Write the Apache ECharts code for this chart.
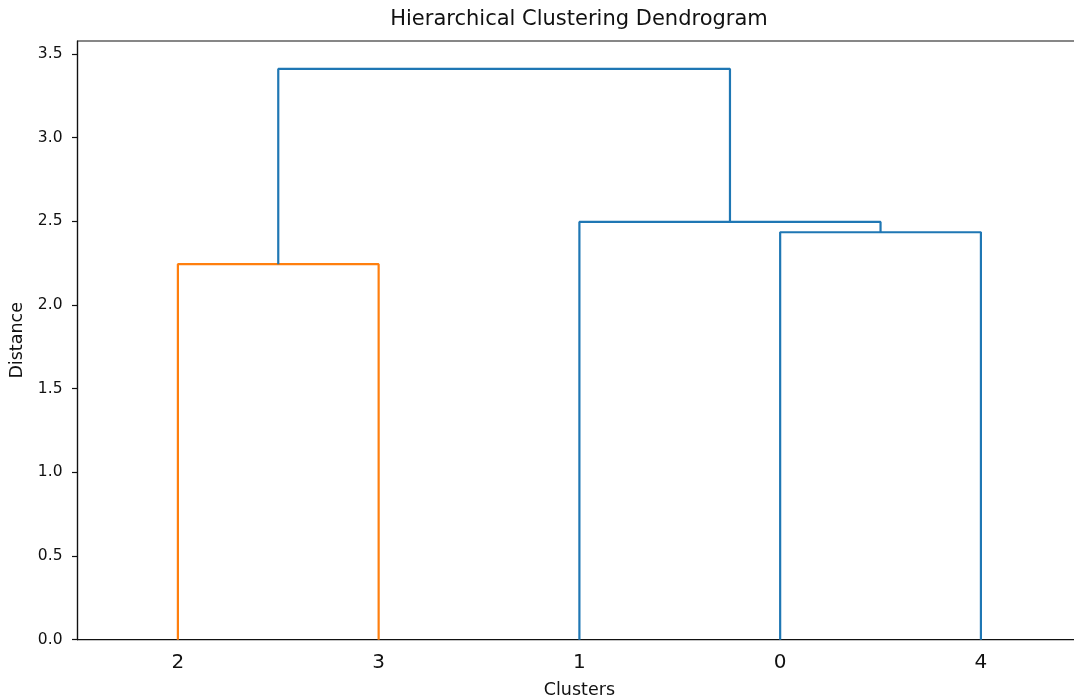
<!DOCTYPE html>
<html>
<head>
<meta charset="utf-8">
<title>Hierarchical Clustering Dendrogram</title>
<script src="https://cdn.jsdelivr.net/npm/echarts@6/dist/echarts.min.js"></script>
<style>
  html, body { margin: 0; padding: 0; background: #fff; }
  #chart { width: 1074px; height: 699px; }
</style>
</head>
<body>
<div id="chart"></div>
<script>
// Observation labels (by original index) and the linkage steps.
// Each merge joins two nodes; nodes 0..4 are leaves, 5.. are earlier merges.
const leafLabels = ['0', '1', '2', '3', '4'];
const mergeLeft = [2, 0, 1, 5];
const mergeRight = [3, 4, 6, 7];
const mergeHeight = [2.244, 2.435, 2.497, 3.411];
const yTicks = [0, 0.5, 1.0, 1.5, 2.0, 2.5, 3.0, 3.5];

const ABOVE_COLOR = '#1f77b4';
const CLUSTER_COLORS = ['#ff7f0e', '#2ca02c', '#d62728', '#9467bd'];
const FONT = 'DejaVu Sans';

const nLeaves = leafLabels.length;
const threshold = 0.7 * Math.max(...mergeHeight);
const rootId = nLeaves + mergeHeight.length - 1;

// Walk the tree left to right to get the leaf order and each node's position.
const leafOrder = [];
const nodeX = {};
const nodeH = {};
function place(id) {
  if (id < nLeaves) {
    nodeX[id] = 5 + 10 * leafOrder.length;
    nodeH[id] = 0;
    leafOrder.push(id);
    return;
  }
  const k = id - nLeaves;
  place(mergeLeft[k]);
  place(mergeRight[k]);
  nodeX[id] = (nodeX[mergeLeft[k]] + nodeX[mergeRight[k]]) / 2;
  nodeH[id] = mergeHeight[k];
}
place(rootId);

// Colour each link: subtrees merged below the threshold share one cluster colour.
const nodeColor = {};
let clusterCount = 0;
function paint(id, inherited) {
  if (id < nLeaves) return;
  const k = id - nLeaves;
  let c = inherited;
  if (!c) {
    if (mergeHeight[k] < threshold) {
      c = CLUSTER_COLORS[clusterCount % CLUSTER_COLORS.length];
      clusterCount++;
    }
  }
  nodeColor[id] = c || ABOVE_COLOR;
  paint(mergeLeft[k], c);
  paint(mergeRight[k], c);
}
paint(rootId, null);

const linkSeries = mergeHeight.map((h, k) => {
  const id = nLeaves + k;
  const a = mergeLeft[k], b = mergeRight[k];
  return {
    type: 'line',
    data: [[nodeX[a], nodeH[a]], [nodeX[a], h], [nodeX[b], h], [nodeX[b], nodeH[b]]],
    showSymbol: false,
    symbol: 'none',
    lineStyle: { color: nodeColor[id], width: 2.2 },
    z: 3,
    silent: true
  };
});

const labelAt = {};
leafOrder.forEach(leaf => { labelAt[nodeX[leaf]] = leafLabels[leaf]; });
const leafPositions = leafOrder.map(leaf => nodeX[leaf]);

const chart = echarts.init(document.getElementById('chart'), null, { renderer: 'canvas' });
chart.setOption({
  animation: false,
  backgroundColor: '#ffffff',
  title: {
    text: 'Hierarchical Clustering Dendrogram',
    left: 579,
    textAlign: 'center',
    top: 9,
    padding: 0,
    textStyle: { fontFamily: FONT, fontSize: 21, fontWeight: 'normal', color: '#111' }
  },
  grid: {
    left: 77.5,
    right: -7.3,
    top: 41,
    bottom: 59.3,
    containLabel: false,
    outerBoundsMode: 'none',
    show: true,
    borderColor: '#111',
    borderWidth: 1.2,
    backgroundColor: 'transparent'
  },
  xAxis: {
    type: 'value',
    min: 0,
    max: 10 * nLeaves,
    interval: 5,
    name: 'Clusters',
    nameLocation: 'middle',
    nameGap: 42,
    nameTextStyle: { fontFamily: FONT, fontSize: 17.5, color: '#111' },
    splitLine: { show: false },
    axisLine: { show: true, onZero: false, lineStyle: { color: '#111', width: 1.2 } },
    axisTick: { show: false },
    axisLabel: {
      customValues: leafPositions,
      formatter: v => labelAt[v] || '',
      fontFamily: FONT,
      fontSize: 20,
      color: '#111',
      margin: 13
    }
  },
  yAxis: {
    type: 'value',
    min: 0,
    max: 3.578,
    name: 'Distance',
    nameLocation: 'middle',
    nameGap: 45,
    nameRotate: 90,
    nameTextStyle: { fontFamily: FONT, fontSize: 17.5, color: '#111' },
    splitLine: { show: false },
    axisLine: { show: true, lineStyle: { color: '#111', width: 1.2 } },
    axisTick: { show: true, customValues: yTicks, length: 5.5, lineStyle: { color: '#111', width: 1.2 } },
    axisLabel: {
      customValues: yTicks,
      formatter: v => v.toFixed(1),
      fontFamily: FONT,
      fontSize: 15.5,
      color: '#111',
      margin: 15
    }
  },
  series: linkSeries
});
</script>
</body>
</html>
